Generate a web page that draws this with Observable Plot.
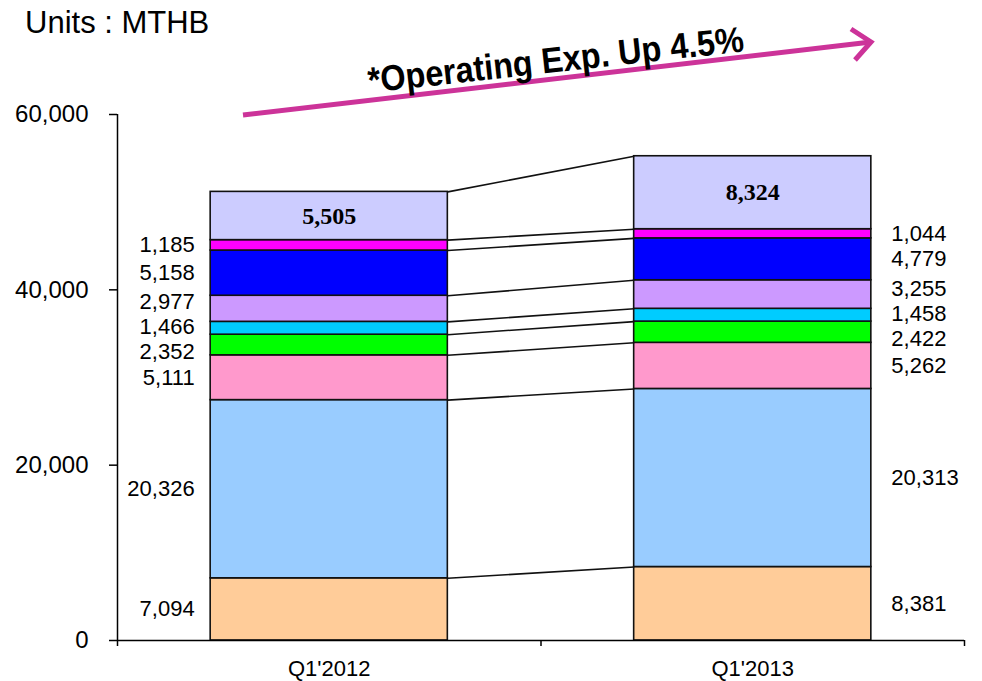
<!DOCTYPE html>
<html><head><meta charset="utf-8">
<script src="https://cdn.jsdelivr.net/npm/d3@7"></script>
<script src="https://cdn.jsdelivr.net/npm/@observablehq/plot@0.6"></script>
<style>
html,body{margin:0;padding:0;background:#fff;}
#wrap{position:relative;width:982px;height:681px;overflow:hidden;}
#title{position:absolute;left:25px;top:5px;font-size:31px;font-family:"Liberation Sans",Arial,sans-serif;color:#000;white-space:nowrap;line-height:normal;}
#anno{position:absolute;left:0;top:0;pointer-events:none;}
</style></head><body>
<div id="wrap">
  <div id="chart"></div>
  <div id="title">Units : MTHB</div>
  <svg id="anno" width="982" height="130" xmlns="http://www.w3.org/2000/svg">
    <line x1="243" y1="115" x2="871" y2="42" stroke="#CC3399" stroke-width="5"/>
    <polyline points="851,29 871,42 855,60" fill="none" stroke="#CC3399" stroke-width="5" stroke-linejoin="miter"/>
    <text transform="translate(557,72) rotate(-6.3)" text-anchor="middle" font-family="Liberation Sans, Arial, sans-serif" font-weight="bold" font-size="36" textLength="378" lengthAdjust="spacingAndGlyphs">*Operating Exp. Up 4.5%</text>
  </svg>
</div>
<script>
// ---- data ----
const periods = ["Q1'2012", "Q1'2013"];
const segments = ["Segment 1", "Segment 2", "Segment 3", "Segment 4", "Segment 5", "Segment 6", "Segment 7", "Segment 8", "Segment 9"];
const values2012 = [7094, 20326, 5111, 2352, 1466, 2977, 5158, 1185, 5505];
const values2013 = [8381, 20313, 5262, 2422, 1458, 3255, 4779, 1044, 8324];
const segmentColors = ["#FFCC99", "#99CCFF", "#FF99CC", "#00FF00", "#00CCFF", "#CC99FF", "#0000FF", "#FF00FF", "#CCCCFF"];
const yTicks = [0, 20000, 40000, 60000];

// ---- layout ----
const W = 982, H = 681, mL = 117, mR = 18, mT = 114, mB = 41;
const barPad = 0.22;
const yMax = d3.max(yTicks);
const fmt = d3.format(",");
const font = "Liberation Sans, Arial, sans-serif";

const series = [values2012, values2013];
const rows = [];
const cums = [];
series.forEach((vals, i) => {
  const cum = Array.from(d3.cumsum(vals));
  cums.push(cum);
  vals.forEach((v, j) => rows.push({period: periods[i], i, segment: segments[j], j, value: v, y1: cum[j] - v, y2: cum[j]}));
});

// connectors between consecutive bars at each stack boundary
const connectors = [];
for (let i = 0; i + 1 < series.length; i++) {
  cums[i].forEach((c, j) => connectors.push({i, a: c, b: cums[i + 1][j]}));
}

// label placement with simple collision relaxation (in data units)
const unitsPerPx = yMax / (H - mT - mB);
const sep = 25 * unitsPerPx;
function relax(items) {
  items.sort((a, b) => a.ly - b.ly);
  for (let it = 0; it < 300; it++) {
    let moved = false;
    for (let k = 1; k < items.length; k++) {
      const d = items[k].ly - items[k - 1].ly;
      if (d < sep - 1e-6) { const s = (sep - d) / 2; items[k].ly += s; items[k - 1].ly -= s; moved = true; }
    }
    if (!moved) break;
  }
  return items;
}
const last = segments.length - 1;
const sideLabels = periods.map((p, i) => relax(rows.filter(r => r.i === i && r.j < last).map(r => ({...r, ly: (r.y1 + r.y2) / 2}))));
const leftLabels = sideLabels[0];
const rightLabels = sideLabels[1];
const topLabels = rows.filter(r => r.j === last);

const chart = Plot.plot({
  width: W, height: H,
  marginLeft: mL, marginRight: mR, marginTop: mT, marginBottom: mB,
  x: {type: "linear", domain: [0, periods.length], axis: null},
  y: {domain: [0, yMax], axis: null},
  color: {domain: segments, range: segmentColors},
  style: {fontFamily: font, background: "#fff", color: "#000", overflow: "visible"},
  marks: [
    Plot.rect(rows, {x1: d => d.i + barPad, x2: d => d.i + 1 - barPad, y1: "y1", y2: "y2", fill: "segment", stroke: "#111", strokeWidth: 1.6}),
    Plot.link(connectors, {x1: d => d.i + 1 - barPad, x2: d => d.i + 1 + barPad, y1: "a", y2: "b", stroke: "#111", strokeWidth: 1.6}),
    Plot.ruleX([0], {stroke: "#000", strokeWidth: 1.5}),
    Plot.ruleY([0], {stroke: "#000", strokeWidth: 1.5}),
    Plot.axisY({ticks: yTicks, tickSize: 8, tickPadding: 21, tickFormat: fmt, fontSize: 24, fontFamily: font, label: null, strokeWidth: 1.5}),
    Plot.axisX({ticks: d3.range(periods.length + 1), tickSize: 6, tickFormat: () => "", label: null, strokeWidth: 1.5}),
    Plot.axisX({ticks: periods.map((_, i) => i + 0.5), tickSize: 0, tickPadding: 20, tickFormat: t => periods[Math.floor(t)], fontSize: 22, fontFamily: font, label: null}),
    Plot.text(leftLabels, {x: d => d.i + barPad, y: "ly", text: d => fmt(d.value), textAnchor: "end", dx: -16, fontSize: 22, fontFamily: font, fill: "#000"}),
    Plot.text(rightLabels, {x: d => d.i + 1 - barPad, y: "ly", text: d => fmt(d.value), textAnchor: "start", dx: 20, fontSize: 22, fontFamily: font, fill: "#000"}),
    Plot.text(topLabels, {x: d => d.i + 0.5, y: d => (d.y1 + d.y2) / 2, text: d => fmt(d.value), fontSize: 24, fontWeight: "bold", fontFamily: "Liberation Serif, Times New Roman, serif", fill: "#000"})
  ]
});
document.getElementById("chart").appendChild(chart);
</script>
</body></html>
